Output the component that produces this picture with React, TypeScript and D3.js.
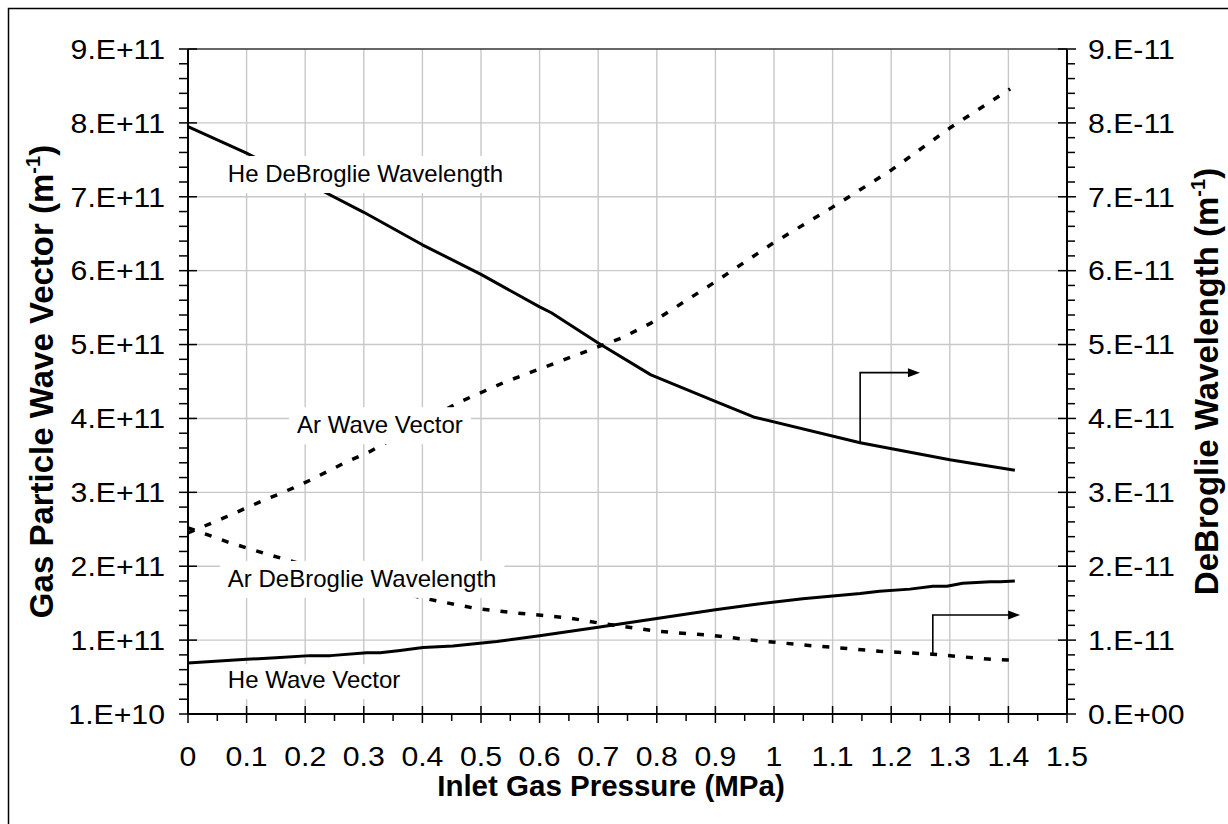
import React from 'react';
import * as d3 from 'd3';

// pressure (MPa)
const xTickValues = d3.range(0, 16).map(i => i / 10);
const xTickLabels = ['0', '0.1', '0.2', '0.3', '0.4', '0.5', '0.6', '0.7', '0.8', '0.9', '1', '1.1', '1.2', '1.3', '1.4', '1.5'];

// left axis in units of 1e11 m^-1 (Excel min 1e10, major unit 1e11)
const leftTickValues = d3.range(0, 10).map(i => 0.1 + i);
const leftTickLabels = ['1.E+10', '1.E+11', '2.E+11', '3.E+11', '4.E+11', '5.E+11', '6.E+11', '7.E+11', '8.E+11', '9.E+11'];

// right axis in units of 1e-11 m
const rightTickValues = d3.range(0, 10);
const rightTickLabels = ['0.E+00', '1.E-11', '2.E-11', '3.E-11', '4.E-11', '5.E-11', '6.E-11', '7.E-11', '8.E-11', '9.E-11'];

// He de Broglie wavelength (right axis, 1e-11 m)
const heLambdaP = [0, 0.1, 0.2, 0.3, 0.4, 0.5, 0.6, 0.62, 0.7, 0.79, 0.903, 0.965, 1.147, 1.3, 1.411];
const heLambdaV = [7.95, 7.59, 7.2, 6.79, 6.35, 5.95, 5.51, 5.43, 5.02, 4.59, 4.22, 4.02, 3.67, 3.44, 3.3];

// Ar wave vector (left axis, 1e11 m^-1)
const arKP = [0, 0.06, 0.12, 0.18, 0.21, 0.27, 0.31, 0.46, 0.54, 0.74, 0.79, 0.9, 0.998, 1.1, 1.2, 1.3, 1.403];
const arKV = [2.55, 2.75, 2.96, 3.16, 3.27, 3.51, 3.65, 4.31, 4.59, 5.19, 5.39, 5.95, 6.47, 6.96, 7.46, 8.03, 8.56];

// Ar de Broglie wavelength (right axis, 1e-11 m)
const arLambdaP = [0, 0.067, 0.128, 0.18, 0.3, 0.4, 0.49, 0.557, 0.65, 0.71, 0.8, 0.899, 0.962, 1.056, 1.18, 1.27, 1.37, 1.405];
const arLambdaV = [2.52, 2.33, 2.18, 2.06, 1.77, 1.57, 1.43, 1.37, 1.3, 1.22, 1.12, 1.06, 1.0, 0.93, 0.85, 0.81, 0.74, 0.73];

// He wave vector (left axis, 1e11 m^-1)
const heKP = [0, 0.1, 0.15, 0.208, 0.243, 0.305, 0.328, 0.362, 0.401, 0.452, 0.527, 0.6, 0.697, 0.78, 0.9, 0.963, 1.049, 1.147, 1.18, 1.232, 1.271, 1.295, 1.322, 1.369, 1.386, 1.411];
const heKV = [0.79, 0.84, 0.86, 0.89, 0.89, 0.93, 0.93, 0.96, 1.0, 1.02, 1.08, 1.16, 1.27, 1.37, 1.51, 1.58, 1.66, 1.73, 1.76, 1.79, 1.83, 1.83, 1.87, 1.89, 1.89, 1.9];

// series labels: text, pressure, left-axis value of baseline
const labelTexts = ['He DeBroglie Wavelength', 'Ar Wave Vector', 'Ar DeBroglie Wavelength', 'He Wave Vector'];
const labelP = [0.068, 0.186, 0.068, 0.068];
const labelK = [7.3, 3.9, 1.82, 0.45];

// "right axis" arrows: [pressure, from (1e-11), up to (1e-11), right to pressure]
const arrowSpecs = [
  [1.147, 3.67, 4.62, 1.249],
  [1.271, 0.825, 1.34, 1.42],
];

const W = 1228;
const H = 824;
const FONT = "'Liberation Sans', Arial, sans-serif";
const TICK_STRETCH = 1.12; // tick labels in the original are a bit wide

const x = d3.scaleLinear().domain([0, 1.5]).range([188, 1067]);
const yL = d3.scaleLinear().domain([0.1, 9.1]).range([714, 49]);
const yR = d3.scaleLinear().domain([0, 9]).range([714, 49]);

const measure = (() => {
  let ctx: CanvasRenderingContext2D | null = null;
  return (txt: string, font: string) => {
    if (!ctx) ctx = document.createElement('canvas').getContext('2d');
    if (!ctx) return txt.length * 12;
    ctx.font = font;
    return ctx.measureText(txt).width;
  };
})();

const zip = (ps: number[], vs: number[]) => ps.map((p, i) => [p, vs[i]] as [number, number]);

const tickText = (key: string, px: number, py: number, anchor: string, label: string, dy?: string) => (
  <text key={key} transform={`translate(${px},${py}) scale(${TICK_STRETCH},1)`} dy={dy} textAnchor={anchor}>
    {label}
  </text>
);

const App: React.FC = () => {
  const lineL = d3.line<[number, number]>().x(d => x(d[0])).y(d => yL(d[1]));
  const lineR = d3.line<[number, number]>().x(d => x(d[0])).y(d => yR(d[1]));

  const series = [
    { d: lineR(zip(heLambdaP, heLambdaV)), dash: undefined, w: 3 },
    { d: lineL(zip(arKP, arKV)), dash: '7 11', w: 3.5 },
    { d: lineR(zip(arLambdaP, arLambdaV)), dash: '7 11', w: 3.5 },
    { d: lineL(zip(heKP, heKV)), dash: undefined, w: 3 },
  ];

  const leftMinor = d3.range(0, 45).map(i => 0.1 + i * 0.2).filter((v, i) => i % 5 !== 0);
  const rightMinor = d3.range(0, 45).map(i => i * 0.2).filter((v, i) => i % 5 !== 0);
  const xMinor = d3.range(0, 15).map(i => 0.05 + i * 0.1);

  const [x0, x1] = x.range();
  const [yb, yt] = yL.range();
  const yMid = (yb + yt) / 2;

  return (
    <svg width={W} height={H} style={{ position: 'absolute', left: 0, top: 0, background: '#fff' }} fontFamily={FONT}>
      {/* outer chart border */}
      <path d={`M8.5,${H} V8.5 H${W}`} fill="none" stroke="#000" strokeWidth={1.5} />

      {/* gridlines */}
      <g stroke="#c8c8c8" strokeWidth={1.4}>
        {xTickValues.slice(1, -1).map(v => (
          <line key={'gx' + v} x1={x(v)} x2={x(v)} y1={yt} y2={yb} />
        ))}
        {leftTickValues.slice(1, -1).map(v => (
          <line key={'gy' + v} x1={x0} x2={x1} y1={yL(v)} y2={yL(v)} />
        ))}
      </g>
      <line x1={x0} x2={x1} y1={yt} y2={yt} stroke="#333" strokeWidth={1.5} />

      {/* series */}
      {series.map((s, i) => (
        <path key={i} d={s.d || ''} fill="none" stroke="#000" strokeWidth={s.w} strokeDasharray={s.dash} strokeLinejoin="round" />
      ))}

      {/* series labels on white boxes */}
      {labelTexts.map((t, i) => {
        const tx = x(labelP[i]);
        const ty = yL(labelK[i]);
        const tw = measure(t, `24px ${FONT}`);
        const top = i === 3 ? 24 : 26;
        return (
          <g key={t}>
            <rect x={tx - 8} y={ty - top} width={tw + 16} height={top + 11} fill="#fff" />
            <text x={tx} y={ty} fontSize={24} fill="#000">{t}</text>
          </g>
        );
      })}

      {/* arrows pointing to the right axis */}
      {arrowSpecs.map(([p, v0, v1, p1], i) => {
        const ax = x(p);
        const ay = yR(v1);
        const ex = x(p1);
        return (
          <g key={'ar' + i}>
            <path d={`M${ax},${yR(v0)} V${ay} H${ex - 10}`} fill="none" stroke="#000" strokeWidth={1.6} />
            <path d={`M${ex},${ay} L${ex - 12},${ay - 4.5} L${ex - 12},${ay + 4.5} Z`} fill="#000" />
          </g>
        );
      })}

      {/* axes */}
      <g stroke="#000">
        <line x1={x0} x2={x0} y1={yt} y2={yb} strokeWidth={2} />
        <line x1={x1} x2={x1} y1={yt} y2={yb} strokeWidth={2} />
        <line x1={x0} x2={x1} y1={yb} y2={yb} strokeWidth={2} />
        {leftTickValues.map(v => (
          <line key={'lt' + v} x1={x0 - 9} x2={x0 + 9} y1={yL(v)} y2={yL(v)} strokeWidth={1.5} />
        ))}
        {leftMinor.map(v => (
          <line key={'lm' + v} x1={x0 - 9} x2={x0} y1={yL(v)} y2={yL(v)} strokeWidth={1.5} />
        ))}
        {rightTickValues.map(v => (
          <line key={'rt' + v} x1={x1 - 9} x2={x1 + 9} y1={yR(v)} y2={yR(v)} strokeWidth={1.5} />
        ))}
        {rightMinor.map(v => (
          <line key={'rm' + v} x1={x1} x2={x1 + 8} y1={yR(v)} y2={yR(v)} strokeWidth={1.5} />
        ))}
        {xTickValues.map(v => (
          <line key={'xt' + v} x1={x(v)} x2={x(v)} y1={yb - 8} y2={yb + 9} strokeWidth={1.5} />
        ))}
        {xMinor.map(v => (
          <line key={'xm' + v} x1={x(v)} x2={x(v)} y1={yb} y2={yb + 7} strokeWidth={1.5} />
        ))}
      </g>

      {/* tick labels */}
      <g fontSize={27} fill="#000">
        {leftTickValues.map((v, i) => tickText('ll' + v, 165, yL(v), 'end', leftTickLabels[i], '0.36em'))}
        {rightTickValues.map((v, i) => tickText('rl' + v, 1088, yR(v), 'start', rightTickLabels[i], '0.36em'))}
        {xTickValues.map((v, i) => tickText('xl' + v, x(v), 766, 'middle', xTickLabels[i]))}
      </g>

      {/* axis titles */}
      <text x={611} y={796} textAnchor="middle" fontSize={29.5} fontWeight="bold">Inlet Gas Pressure (MPa)</text>
      <text transform={`translate(53,${yMid}) rotate(-90)`} textAnchor="middle" fontSize={33} fontWeight="bold">
        Gas Particle Wave Vector (m<tspan dy="-13" fontSize={20}>-1</tspan><tspan dy="13">)</tspan>
      </text>
      <text transform={`translate(1218,${yMid}) rotate(-90)`} textAnchor="middle" fontSize={33} fontWeight="bold">
        DeBroglie Wavelength (m<tspan dy="-13" fontSize={20}>-1</tspan><tspan dy="13">)</tspan>
      </text>
    </svg>
  );
};

export default App;
